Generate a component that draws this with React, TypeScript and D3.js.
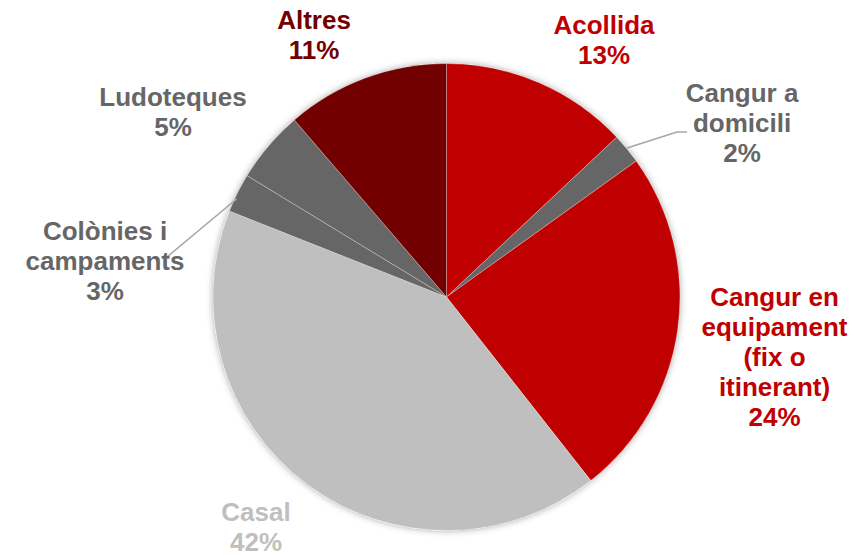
import React from 'react';
import * as d3 from 'd3';

// Data (share of services, %)
const categories = [
  'Acollida',
  'Cangur a domicili',
  'Cangur en equipament (fix o itinerant)',
  'Casal',
  'Colònies i campaments',
  'Ludoteques',
  'Altres',
];
const shares = [13.0, 2.1, 24.3, 41.6, 2.7, 5.0, 11.3];
// label text split in lines (last line is the percent)
const labelLines = [
  ['Acollida'],
  ['Cangur a', 'domicili'],
  ['Cangur en', 'equipament', '(fix o', 'itinerant)'],
  ['Casal'],
  ['Colònies i', 'campaments'],
  ['Ludoteques'],
  ['Altres'],
];

const sliceColors = ['#C00000', '#666666', '#C00000', '#BFBFBF', '#666666', '#666666', '#720000'];
const labelColors = ['#C00000', '#666666', '#C00000', '#BFBFBF', '#666666', '#666666', '#720000'];

const width = 867;
const height = 555;
const cx = 446.5;
const cy = 297;
const radius = 233.5;
const lineHeight = 30;

// label anchor: centre x, first baseline y (relative to pie centre)
const labelPos = [
  { dx: 157.5, dy: -263 },
  { dx: 295.5, dy: -195 },
  { dx: 328, dy: 9 },
  { dx: -190.5, dy: 223.5 },
  { dx: -341.5, dy: -57 },
  { dx: -273.5, dy: -191 },
  { dx: -132.5, dy: -268 },
];

// leader lines for small slices (index -> polyline relative to centre)
const leaders: Record<number, [number, number][]> = {
  1: [[180.5, -149], [230.5, -165], [240.5, -165]],
  4: [[-210, -98], [-279.5, -40]],
};

const App: React.FC = () => {
  const pie = d3.pie<number>().sort(null).value(d => d);
  const arcs = pie(shares);
  const arc = d3.arc<d3.PieArcDatum<number>>().innerRadius(0).outerRadius(radius);

  return (
    <svg
      width={width}
      height={height}
      style={{ position: 'absolute', left: 0, top: 0, background: '#fff' }}
      fontFamily="'Liberation Sans', Arial, sans-serif"
    >
      <defs>
        <filter id="pieShadow" x="-10%" y="-10%" width="120%" height="120%">
          <feDropShadow dx="0" dy="0" stdDeviation="3.5" floodColor="#000" floodOpacity="0.35" />
        </filter>
      </defs>
      <g transform={`translate(${cx},${cy})`}>
        <circle r={radius} fill="#fff" filter="url(#pieShadow)" />
        {arcs.map((a, i) => (
          <path
            key={categories[i]}
            d={arc(a) || ''}
            fill={sliceColors[i]}
            stroke="#ffffff"
            strokeOpacity={0.35}
            strokeWidth={0.75}
          />
        ))}
        {Object.entries(leaders).map(([k, pts]) => (
          <polyline
            key={k}
            points={pts.map(p => p.join(',')).join(' ')}
            fill="none"
            stroke="#A6A6A6"
            strokeWidth={1.5}
          />
        ))}
        {arcs.map((a, i) => {
          const lines = [...labelLines[i], `${Math.round(shares[i])}%`];
          const p = labelPos[i];
          return (
            <text
              key={`lbl-${i}`}
              x={p.dx}
              y={p.dy}
              textAnchor="middle"
              fill={labelColors[i]}
              fontSize={26}
              fontWeight="bold"
            >
              {lines.map((t, j) => (
                <tspan key={j} x={p.dx} y={p.dy + j * lineHeight}>
                  {t}
                </tspan>
              ))}
            </text>
          );
        })}
      </g>
    </svg>
  );
};

export default App;
